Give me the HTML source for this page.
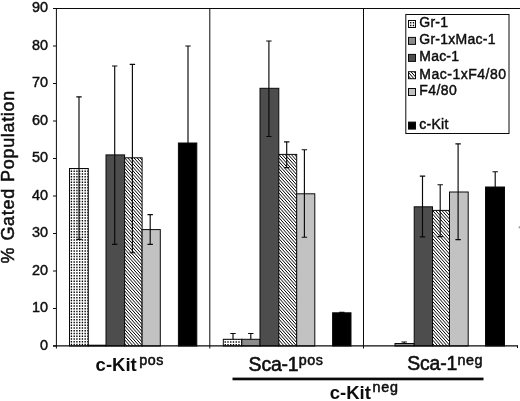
<!DOCTYPE html>
<html><head><meta charset="utf-8">
<style>
html,body{margin:0;padding:0;background:#fff;}
body{width:520px;height:401px;overflow:hidden;}
svg{display:block;font-family:"Liberation Sans",sans-serif;fill:#0a0a0a;}
text{stroke:#0a0a0a;stroke-width:0.3px;}
text.b{stroke:none;}
text.s{stroke-width:0.5px;}
text.m{stroke-width:0.55px;}
text.l{stroke-width:0.42px;}
text.t{stroke-width:0.4px;}
text.y{stroke-width:0.45px;}
</style></head><body>
<svg width="520" height="401" viewBox="0 0 520 401">
<defs>
<clipPath id="c1"><rect x="69.50" y="168.50" width="18.80" height="177.50"/></clipPath>
<clipPath id="c2"><rect x="124.60" y="157.80" width="17.50" height="188.20"/></clipPath>
<clipPath id="c3"><rect x="223.30" y="339.30" width="18.50" height="6.70"/></clipPath>
<clipPath id="c4"><rect x="278.80" y="154.40" width="17.90" height="191.60"/></clipPath>
<clipPath id="c5"><rect x="432.50" y="210.40" width="17.00" height="135.60"/></clipPath>
<clipPath id="cl1"><rect x="408.5" y="20.50" width="7" height="7"/></clipPath>
<clipPath id="cl2"><rect x="408.5" y="71.70" width="7" height="7"/></clipPath>
<filter id="soft" x="0" y="0" width="520" height="401" filterUnits="userSpaceOnUse"><feGaussianBlur stdDeviation="0.35"/></filter>
</defs>
<rect width="520" height="401" fill="#fff"/>
<g>
<!-- bars -->
<rect x="69.50" y="168.50" width="18.80" height="177.50" fill="#fff"/>
<g clip-path="url(#c1)"><path d="M65.92 165.05V348.75M68.67 165.05V348.75M71.42 165.05V348.75M74.17 165.05V348.75M76.92 165.05V348.75M79.67 165.05V348.75M82.42 165.05V348.75M85.17 165.05V348.75M87.92 165.05V348.75M90.67 165.05V348.75" stroke="#000" stroke-width="1.35" stroke-dasharray="1.35 1.4" fill="none"/></g>
<rect x="69.50" y="168.50" width="18.80" height="177.50" fill="none" stroke="#0a0a0a" stroke-width="1"/>
<rect x="88.30" y="345.20" width="17.70" height="0.80" fill="#8c8c8c" stroke="#0a0a0a" stroke-width="1"/>
<rect x="106.00" y="154.90" width="18.60" height="191.10" fill="#4d4d4d" stroke="#0a0a0a" stroke-width="1"/>
<rect x="124.60" y="157.80" width="17.50" height="188.20" fill="#fff"/>
<g clip-path="url(#c2)"><path d="M123.60 132.17L143.10 154.19M123.60 135.67L143.10 157.69M123.60 139.17L143.10 161.19M123.60 142.67L143.10 164.69M123.60 146.17L143.10 168.19M123.60 149.67L143.10 171.69M123.60 153.17L143.10 175.19M123.60 156.67L143.10 178.69M123.60 160.17L143.10 182.19M123.60 163.67L143.10 185.69M123.60 167.17L143.10 189.19M123.60 170.67L143.10 192.69M123.60 174.17L143.10 196.19M123.60 177.67L143.10 199.69M123.60 181.17L143.10 203.19M123.60 184.67L143.10 206.69M123.60 188.17L143.10 210.19M123.60 191.67L143.10 213.69M123.60 195.17L143.10 217.19M123.60 198.67L143.10 220.69M123.60 202.17L143.10 224.19M123.60 205.67L143.10 227.69M123.60 209.17L143.10 231.19M123.60 212.67L143.10 234.69M123.60 216.17L143.10 238.19M123.60 219.67L143.10 241.69M123.60 223.17L143.10 245.19M123.60 226.67L143.10 248.69M123.60 230.17L143.10 252.19M123.60 233.67L143.10 255.69M123.60 237.17L143.10 259.19M123.60 240.67L143.10 262.69M123.60 244.17L143.10 266.19M123.60 247.67L143.10 269.69M123.60 251.17L143.10 273.19M123.60 254.67L143.10 276.69M123.60 258.17L143.10 280.19M123.60 261.67L143.10 283.69M123.60 265.17L143.10 287.19M123.60 268.67L143.10 290.69M123.60 272.17L143.10 294.19M123.60 275.67L143.10 297.69M123.60 279.17L143.10 301.19M123.60 282.67L143.10 304.69M123.60 286.17L143.10 308.19M123.60 289.67L143.10 311.69M123.60 293.17L143.10 315.19M123.60 296.67L143.10 318.69M123.60 300.17L143.10 322.19M123.60 303.67L143.10 325.69M123.60 307.17L143.10 329.19M123.60 310.67L143.10 332.69M123.60 314.17L143.10 336.19M123.60 317.67L143.10 339.69M123.60 321.17L143.10 343.19M123.60 324.67L143.10 346.69M123.60 328.17L143.10 350.19M123.60 331.67L143.10 353.69M123.60 335.17L143.10 357.19M123.60 338.67L143.10 360.69M123.60 342.17L143.10 364.19" stroke="#000" stroke-width="1.0" fill="none"/></g>
<rect x="124.60" y="157.80" width="17.50" height="188.20" fill="none" stroke="#0a0a0a" stroke-width="1"/>
<rect x="142.10" y="229.60" width="18.20" height="116.40" fill="#c2c2c2" stroke="#0a0a0a" stroke-width="1"/>
<rect x="178.40" y="143.00" width="18.40" height="203.00" fill="#000" stroke="#0a0a0a" stroke-width="1"/>
<rect x="223.30" y="339.30" width="18.50" height="6.70" fill="#fff"/>
<g clip-path="url(#c3)"><path d="M219.73 335.85V348.75M222.48 335.85V348.75M225.23 335.85V348.75M227.98 335.85V348.75M230.73 335.85V348.75M233.48 335.85V348.75M236.23 335.85V348.75M238.98 335.85V348.75M241.73 335.85V348.75M244.48 335.85V348.75" stroke="#000" stroke-width="1.35" stroke-dasharray="1.35 1.4" fill="none"/></g>
<rect x="223.30" y="339.30" width="18.50" height="6.70" fill="none" stroke="#0a0a0a" stroke-width="1"/>
<rect x="241.80" y="339.30" width="18.20" height="6.70" fill="#8c8c8c" stroke="#0a0a0a" stroke-width="1"/>
<rect x="260.00" y="88.30" width="18.80" height="257.70" fill="#4d4d4d" stroke="#0a0a0a" stroke-width="1"/>
<rect x="278.80" y="154.40" width="17.90" height="191.60" fill="#fff"/>
<g clip-path="url(#c4)"><path d="M277.80 128.77L297.70 151.24M277.80 132.27L297.70 154.74M277.80 135.77L297.70 158.24M277.80 139.27L297.70 161.74M277.80 142.77L297.70 165.24M277.80 146.27L297.70 168.74M277.80 149.77L297.70 172.24M277.80 153.27L297.70 175.74M277.80 156.77L297.70 179.24M277.80 160.27L297.70 182.74M277.80 163.77L297.70 186.24M277.80 167.27L297.70 189.74M277.80 170.77L297.70 193.24M277.80 174.27L297.70 196.74M277.80 177.77L297.70 200.24M277.80 181.27L297.70 203.74M277.80 184.77L297.70 207.24M277.80 188.27L297.70 210.74M277.80 191.77L297.70 214.24M277.80 195.27L297.70 217.74M277.80 198.77L297.70 221.24M277.80 202.27L297.70 224.74M277.80 205.77L297.70 228.24M277.80 209.27L297.70 231.74M277.80 212.77L297.70 235.24M277.80 216.27L297.70 238.74M277.80 219.77L297.70 242.24M277.80 223.27L297.70 245.74M277.80 226.77L297.70 249.24M277.80 230.27L297.70 252.74M277.80 233.77L297.70 256.24M277.80 237.27L297.70 259.74M277.80 240.77L297.70 263.24M277.80 244.27L297.70 266.74M277.80 247.77L297.70 270.24M277.80 251.27L297.70 273.74M277.80 254.77L297.70 277.24M277.80 258.27L297.70 280.74M277.80 261.77L297.70 284.24M277.80 265.27L297.70 287.74M277.80 268.77L297.70 291.24M277.80 272.27L297.70 294.74M277.80 275.77L297.70 298.24M277.80 279.27L297.70 301.74M277.80 282.77L297.70 305.24M277.80 286.27L297.70 308.74M277.80 289.77L297.70 312.24M277.80 293.27L297.70 315.74M277.80 296.77L297.70 319.24M277.80 300.27L297.70 322.74M277.80 303.77L297.70 326.24M277.80 307.27L297.70 329.74M277.80 310.77L297.70 333.24M277.80 314.27L297.70 336.74M277.80 317.77L297.70 340.24M277.80 321.27L297.70 343.74M277.80 324.77L297.70 347.24M277.80 328.27L297.70 350.74M277.80 331.77L297.70 354.24M277.80 335.27L297.70 357.74M277.80 338.77L297.70 361.24M277.80 342.27L297.70 364.74" stroke="#000" stroke-width="1.0" fill="none"/></g>
<rect x="278.80" y="154.40" width="17.90" height="191.60" fill="none" stroke="#0a0a0a" stroke-width="1"/>
<rect x="296.70" y="193.80" width="18.10" height="152.20" fill="#c2c2c2" stroke="#0a0a0a" stroke-width="1"/>
<rect x="332.60" y="312.80" width="18.40" height="33.20" fill="#000" stroke="#0a0a0a" stroke-width="1"/>
<rect x="395.00" y="343.50" width="19.20" height="2.50" fill="#8c8c8c" stroke="#0a0a0a" stroke-width="1"/>
<rect x="414.20" y="206.80" width="18.30" height="139.20" fill="#4d4d4d" stroke="#0a0a0a" stroke-width="1"/>
<rect x="432.50" y="210.40" width="17.00" height="135.60" fill="#fff"/>
<g clip-path="url(#c5)"><path d="M431.50 184.77L450.50 206.22M431.50 188.27L450.50 209.72M431.50 191.77L450.50 213.22M431.50 195.27L450.50 216.72M431.50 198.77L450.50 220.22M431.50 202.27L450.50 223.72M431.50 205.77L450.50 227.22M431.50 209.27L450.50 230.72M431.50 212.77L450.50 234.22M431.50 216.27L450.50 237.72M431.50 219.77L450.50 241.22M431.50 223.27L450.50 244.72M431.50 226.77L450.50 248.22M431.50 230.27L450.50 251.72M431.50 233.77L450.50 255.22M431.50 237.27L450.50 258.72M431.50 240.77L450.50 262.22M431.50 244.27L450.50 265.72M431.50 247.77L450.50 269.22M431.50 251.27L450.50 272.72M431.50 254.77L450.50 276.22M431.50 258.27L450.50 279.72M431.50 261.77L450.50 283.22M431.50 265.27L450.50 286.72M431.50 268.77L450.50 290.22M431.50 272.27L450.50 293.72M431.50 275.77L450.50 297.22M431.50 279.27L450.50 300.72M431.50 282.77L450.50 304.22M431.50 286.27L450.50 307.72M431.50 289.77L450.50 311.22M431.50 293.27L450.50 314.72M431.50 296.77L450.50 318.22M431.50 300.27L450.50 321.72M431.50 303.77L450.50 325.22M431.50 307.27L450.50 328.72M431.50 310.77L450.50 332.22M431.50 314.27L450.50 335.72M431.50 317.77L450.50 339.22M431.50 321.27L450.50 342.72M431.50 324.77L450.50 346.22M431.50 328.27L450.50 349.72M431.50 331.77L450.50 353.22M431.50 335.27L450.50 356.72M431.50 338.77L450.50 360.22M431.50 342.27L450.50 363.72" stroke="#000" stroke-width="1.0" fill="none"/></g>
<rect x="432.50" y="210.40" width="17.00" height="135.60" fill="none" stroke="#0a0a0a" stroke-width="1"/>
<rect x="449.50" y="192.00" width="18.70" height="154.00" fill="#c2c2c2" stroke="#0a0a0a" stroke-width="1"/>
<rect x="485.50" y="187.00" width="19.00" height="159.00" fill="#000" stroke="#0a0a0a" stroke-width="1"/>
<path d="M79.00 96.80V239.40M76.30 96.80h5.4M76.30 239.40h5.4" stroke="#0a0a0a" stroke-width="1.15" fill="none"/>
<path d="M114.70 66.00V244.30M112.00 66.00h5.4M112.00 244.30h5.4" stroke="#0a0a0a" stroke-width="1.15" fill="none"/>
<path d="M132.40 64.30V252.70M129.70 64.30h5.4M129.70 252.70h5.4" stroke="#0a0a0a" stroke-width="1.15" fill="none"/>
<path d="M150.20 214.60V244.40M147.50 214.60h5.4M147.50 244.40h5.4" stroke="#0a0a0a" stroke-width="1.15" fill="none"/>
<path d="M188.00 46.00V143.00M185.30 46.00h5.4" stroke="#0a0a0a" stroke-width="1.15" fill="none"/>
<path d="M233.00 333.50V339.30M230.30 333.50h5.4" stroke="#0a0a0a" stroke-width="1.15" fill="none"/>
<path d="M250.80 333.50V339.30M248.10 333.50h5.4" stroke="#0a0a0a" stroke-width="1.15" fill="none"/>
<path d="M268.90 41.00V136.50M266.20 41.00h5.4M266.20 136.50h5.4" stroke="#0a0a0a" stroke-width="1.15" fill="none"/>
<path d="M286.70 141.80V167.60M284.00 141.80h5.4M284.00 167.60h5.4" stroke="#0a0a0a" stroke-width="1.15" fill="none"/>
<path d="M304.40 149.70V237.20M301.70 149.70h5.4M301.70 237.20h5.4" stroke="#0a0a0a" stroke-width="1.15" fill="none"/>
<path d="M341.80 312.30V312.80M339.10 312.30h5.4" stroke="#0a0a0a" stroke-width="1.15" fill="none"/>
<path d="M404.20 342.00V343.50M401.50 342.00h5.4" stroke="#0a0a0a" stroke-width="1.15" fill="none"/>
<path d="M422.50 176.10V236.80M419.80 176.10h5.4M419.80 236.80h5.4" stroke="#0a0a0a" stroke-width="1.15" fill="none"/>
<path d="M440.20 184.70V236.60M437.50 184.70h5.4M437.50 236.60h5.4" stroke="#0a0a0a" stroke-width="1.15" fill="none"/>
<path d="M458.10 143.80V239.60M455.40 143.80h5.4M455.40 239.60h5.4" stroke="#0a0a0a" stroke-width="1.15" fill="none"/>
<path d="M495.20 171.70V187.00M492.50 171.70h5.4" stroke="#0a0a0a" stroke-width="1.15" fill="none"/>
<!-- axes -->
<path d="M53 8.5H520" stroke="#0a0a0a" stroke-width="1.1" fill="none"/>
<path d="M56.4 8V348.5" stroke="#0a0a0a" stroke-width="1" fill="none"/>
<path d="M53 345.9H517.8" stroke="#0a0a0a" stroke-width="1.1" fill="none"/>
<path d="M209.8 8.5V348.5M363.5 8.5V348.5M517.5 345.5V348" stroke="#0a0a0a" stroke-width="1" fill="none"/>
<path d="M53 346.00H56.4" stroke="#0a0a0a" stroke-width="1"/>
<path d="M53 308.50H56.4" stroke="#0a0a0a" stroke-width="1"/>
<path d="M53 271.00H56.4" stroke="#0a0a0a" stroke-width="1"/>
<path d="M53 233.50H56.4" stroke="#0a0a0a" stroke-width="1"/>
<path d="M53 196.00H56.4" stroke="#0a0a0a" stroke-width="1"/>
<path d="M53 158.50H56.4" stroke="#0a0a0a" stroke-width="1"/>
<path d="M53 121.00H56.4" stroke="#0a0a0a" stroke-width="1"/>
<path d="M53 83.50H56.4" stroke="#0a0a0a" stroke-width="1"/>
<path d="M53 46.00H56.4" stroke="#0a0a0a" stroke-width="1"/>
<path d="M53 8.50H56.4" stroke="#0a0a0a" stroke-width="1"/>
<!-- legend -->
<rect x="405.8" y="14.5" width="103.2" height="119" fill="#fff" stroke="#0a0a0a" stroke-width="1"/>
<rect x="408.5" y="20.50" width="7" height="7" fill="#fff"/>
<g clip-path="url(#cl1)"><path d="M405.23 16.55V30.25M407.98 16.55V30.25M410.73 16.55V30.25M413.48 16.55V30.25M416.23 16.55V30.25" stroke="#000" stroke-width="1.35" stroke-dasharray="1.35 1.4" fill="none"/></g>
<rect x="408.5" y="20.50" width="7" height="7" fill="none" stroke="#0a0a0a" stroke-width="1"/>
<rect x="408.5" y="37.40" width="7" height="7" fill="#8c8c8c" stroke="#0a0a0a" stroke-width="1"/>
<rect x="408.5" y="54.40" width="7" height="7" fill="#4d4d4d" stroke="#0a0a0a" stroke-width="1"/>
<rect x="408.5" y="71.70" width="7" height="7" fill="#fff"/>
<g clip-path="url(#cl2)"><path d="M407.50 57.37L416.50 67.53M407.50 60.87L416.50 71.03M407.50 64.37L416.50 74.53M407.50 67.87L416.50 78.03M407.50 71.37L416.50 81.53M407.50 74.87L416.50 85.03" stroke="#000" stroke-width="1.0" fill="none"/></g>
<rect x="408.5" y="71.70" width="7" height="7" fill="none" stroke="#0a0a0a" stroke-width="1"/>
<rect x="408.5" y="88.50" width="7" height="7" fill="#c2c2c2" stroke="#0a0a0a" stroke-width="1"/>
<rect x="408.5" y="122.10" width="7" height="7" fill="#000" stroke="#0a0a0a" stroke-width="1"/>
<rect x="232.5" y="377.6" width="251" height="2.7" fill="#0a0a0a"/>
<circle cx="519.6" cy="227.3" r="1.1" fill="#999"/>
</g>
<g filter="url(#soft)">
<text x="48" y="349.90" text-anchor="end" font-size="14.4" class="t">0</text>
<text x="48" y="312.40" text-anchor="end" font-size="14.4" class="t">10</text>
<text x="48" y="274.90" text-anchor="end" font-size="14.4" class="t">20</text>
<text x="48" y="237.40" text-anchor="end" font-size="14.4" class="t">30</text>
<text x="48" y="199.90" text-anchor="end" font-size="14.4" class="t">40</text>
<text x="48" y="162.40" text-anchor="end" font-size="14.4" class="t">50</text>
<text x="48" y="124.90" text-anchor="end" font-size="14.4" class="t">60</text>
<text x="48" y="87.40" text-anchor="end" font-size="14.4" class="t">70</text>
<text x="48" y="49.90" text-anchor="end" font-size="14.4" class="t">80</text>
<text x="48" y="12.40" text-anchor="end" font-size="14.4" class="t">90</text>
<text x="419.3" y="27.4" font-size="14" letter-spacing="0.25" class="l">Gr-1</text>
<text x="419.3" y="44.3" font-size="14" letter-spacing="0.25" class="l">Gr-1xMac-1</text>
<text x="419.3" y="61.3" font-size="14" letter-spacing="0.2" class="l">Mac-1</text>
<text x="419.3" y="78.6" font-size="14" letter-spacing="0.5" class="l">Mac-1xF4/80</text>
<text x="419.3" y="95.4" font-size="14" letter-spacing="0.45" class="l">F4/80</text>
<text x="419.3" y="129.0" font-size="14" letter-spacing="0.25" class="l">c-Kit</text>
<!-- y title -->
<text transform="translate(14.2 263.5) rotate(-90)" font-size="18" letter-spacing="0.67" word-spacing="0.6" class="y">% Gated Population</text>
<!-- category labels -->
<text x="95.6" y="370.8" font-size="18.5" font-weight="bold" class="b">c-Kit</text>
<text x="139.2" y="364.6" font-size="14.3" letter-spacing="0.6" class="s">pos</text>
<text x="248.6" y="370.8" font-size="19.4" letter-spacing="-0.15" class="m">Sca-1</text>
<text x="298.8" y="365.2" font-size="14.3" letter-spacing="0.5" class="s">pos</text>
<text x="407.2" y="370.4" font-size="19.4" letter-spacing="-0.15" class="m">Sca-1</text>
<text x="457.6" y="364.6" font-size="14.3" letter-spacing="0.5" class="s">neg</text>
<text x="329.8" y="398.6" font-size="18.5" font-weight="bold" class="b">c-Kit</text>
<text x="372.6" y="392.4" font-size="14.3" letter-spacing="0.7" class="s">neg</text>
</g>
</svg>
</body></html>
